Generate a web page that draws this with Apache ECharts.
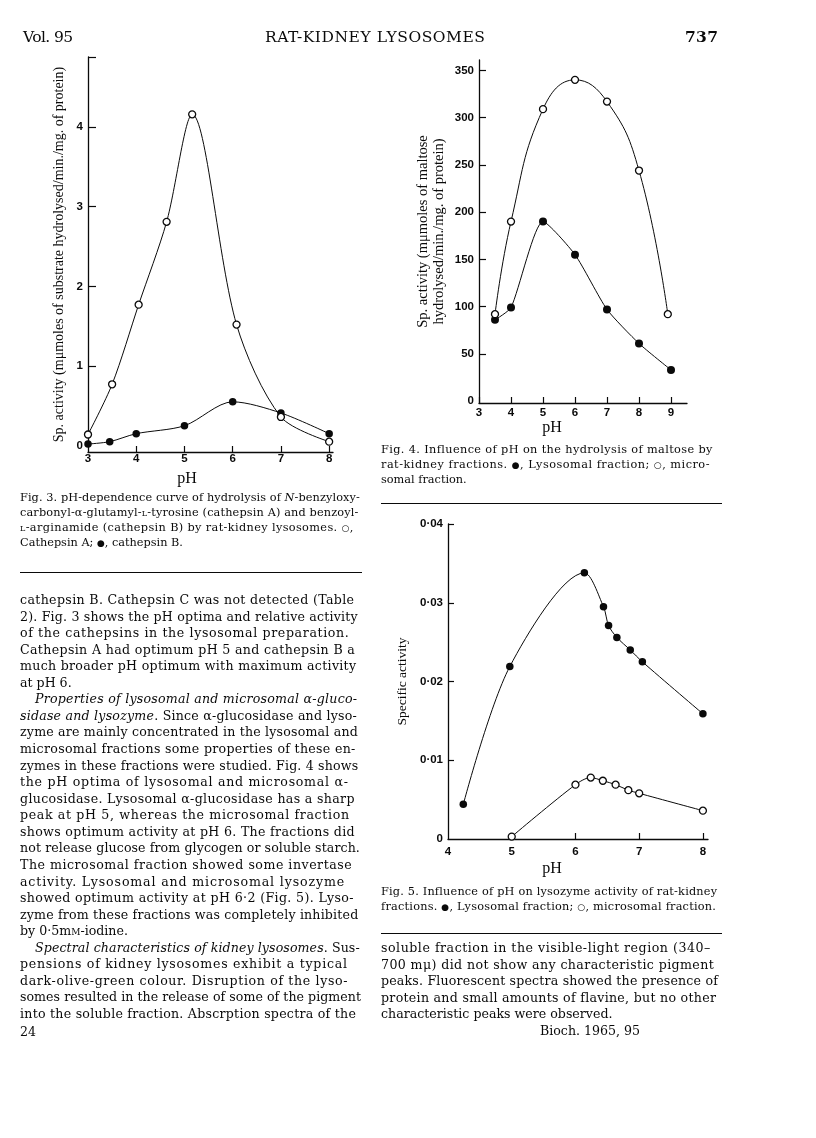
<!DOCTYPE html>
<html>
<head>
<meta charset="utf-8">
<script src="https://cdn.jsdelivr.net/npm/echarts@6/dist/echarts.min.js"></script>
<style>
  html, body { margin: 0; padding: 0; background: #fff; }
  #page { position: relative; width: 816px; height: 1138px; overflow: hidden; background: #fff; }
  #chart { position: absolute; left: 0; top: 0; width: 816px; height: 1138px; }
  .t { position: absolute; white-space: nowrap; font-family: 'DejaVu Serif', 'Liberation Serif', serif; color: #0a0a0a; z-index: 2; }
  .body { font-size: 12.6px; line-height: 16px; }
  .cap { font-size: 11.3px; line-height: 15px; }
  .hdr { font-size: 15.5px; line-height: 18px; }
  .j { text-align: justify; text-align-last: justify; }
  .sc { font-variant: small-caps; }
  .sym { font-family: 'DejaVu Sans', sans-serif; font-size: 9px; }
  .rule { position: absolute; height: 0; border-top: 1.5px solid #0a0a0a; z-index: 2; }
</style>
</head>
<body>
<div id="page">
  <div id="chart"></div>
</div>
<script>
// ---------- Data ----------
// Fig. 3 — cathepsin A (open circles) and cathepsin B (filled circles)
const fig3PhA   = [3, 3.5, 4.05, 4.63, 5.16, 6.08, 7, 8];
const fig3CathA = [0.14, 0.77, 1.77, 2.81, 4.16, 1.52, 0.36, 0.05];
const fig3PhB   = [3, 3.45, 4, 5, 6, 7, 8];
const fig3CathB = [0.02, 0.05, 0.15, 0.25, 0.55, 0.41, 0.15];
const fig3XLabels = [3, 4, 5, 6, 7, 8];
const fig3YLabels = [0, 1, 2, 3, 4];
const fig3YTicks  = [1, 2, 3, 4, 4.88];

// Fig. 4 — maltose hydrolysis: microsomal (open) and lysosomal (filled)
const fig4PhMicro = [3.5, 4, 5, 6, 7, 8, 8.9];
const fig4Micro   = [92, 190, 309, 340, 317, 244, 92];
const fig4PhLyso  = [3.5, 4, 5, 6, 7, 8, 9];
const fig4Lyso    = [86, 99, 190, 155, 97, 61, 33];
const fig4XLabels = [3, 4, 5, 6, 7, 8, 9];
const fig4YLabels = [0, 50, 100, 150, 200, 250, 300, 350];
const fig4YTicks  = [50, 100, 150, 200, 250, 300, 350];

// Fig. 5 — lysozyme: lysosomal (filled) and microsomal (open)
const fig5PhLyso  = [4.24, 4.97, 6.14, 6.44, 6.52, 6.65, 6.86, 7.05, 8];
const fig5Lyso    = [0.0044, 0.0219, 0.0338, 0.0295, 0.0271, 0.0256, 0.0240, 0.0225, 0.0159];
const fig5PhMicro = [5, 6, 6.24, 6.43, 6.63, 6.83, 7, 8];
const fig5Micro   = [0.0003, 0.0069, 0.0078, 0.0074, 0.0069, 0.0062, 0.0058, 0.0036];
const fig5XLabels = [4, 5, 6, 7, 8];
const fig5XTicks  = [5, 6, 7, 8];
const fig5YLabels = [0, 0.01, 0.02, 0.03, 0.04];
const fig5YTicks  = [0.01, 0.02, 0.03, 0.04];

// ---------- Page text ----------
const page = document.getElementById('page');
const fitList = [];
function addText(cls, left, top, html, fitWidth, mode) {
  const d = document.createElement('div');
  d.className = 't ' + cls;
  d.style.left = left + 'px';
  d.style.top = top + 'px';
  d.innerHTML = html;
  page.appendChild(d);
  if (fitWidth) fitList.push([d, fitWidth, mode]);
  return d;
}
function addRule(left, top, width) {
  const d = document.createElement('div');
  d.className = 'rule';
  d.style.left = left + 'px'; d.style.top = top + 'px'; d.style.width = width + 'px';
  page.appendChild(d);
}
// mode 'j': justified line (letter-spacing takes part of slack, word gaps the rest)
// mode 'fill': exact fill by letter-spacing (header), mode 'natural': shrink only if too wide
function fitAll() {
  fitList.forEach(([d, target, mode]) => {
    d.style.letterSpacing = '0px';
    d.style.width = '';
    const w = d.getBoundingClientRect().width;
    const n = Math.max(1, d.textContent.length);
    let ls = 0;
    if (mode === 'j') {
      const slack = target - w;
      ls = slack > 0 ? Math.min(0.9, slack * 0.7 / n) : (slack - 1) / n;
    } else if (mode === 'fill') {
      ls = (target - w) / Math.max(1, n - 1);
    } else {
      ls = w > target ? (target - w - 1) / n : 0;
    }
    d.style.letterSpacing = ls.toFixed(3) + 'px';
    if (mode === 'j') d.style.width = target + 'px';
  });
}

const OPEN = '<span class="sym">○</span>';
const FILL = '<span class="sym">●</span>';

// header
addText('hdr', 23, 28, 'Vol. 95', 50, 'fill');
addText('hdr', 265, 28, 'RAT-KIDNEY LYSOSOMES', 220, 'fill');
addText('hdr', 685, 28, '<b>737</b>', 33, 'fill');

const LX = 20, LW = 342, RX = 381, RW = 341;
// Fig. 3 caption
const fig3Cap = [
  ['Fig. 3. pH-dependence curve of hydrolysis of <i>N</i>-benzyloxy-', 'j'],
  ['carbonyl-α-glutamyl-<span class="sc">l</span>-tyrosine (cathepsin A) and benzoyl-', 'j'],
  ['<span class="sc">l</span>-arginamide (cathepsin B) by rat-kidney lysosomes. ' + OPEN + ',', 'j'],
  ['Cathepsin A; ' + FILL + ', cathepsin B.', 'natural']
];
fig3Cap.forEach((l, i) => addText('cap', LX, 498 + i * 15 - 8.5, l[0], LW, l[1]));
addRule(LX, 572, LW);

// left column body text
const leftBody = [
  ['cathepsin B.  Cathepsin C was not detected (Table', 'j', 0],
  ['2).  Fig. 3 shows the pH optima and relative activity', 'j', 0],
  ['of the cathepsins in the lysosomal preparation.', 'j', 0],
  ['Cathepsin A had optimum pH 5 and cathepsin B a', 'j', 0],
  ['much broader pH optimum with maximum activity', 'j', 0],
  ['at pH 6.', 'natural', 0],
  ['<i>Properties of lysosomal and microsomal α-gluco-</i>', 'j', 15],
  ['<i>sidase and lysozyme</i>.  Since α-glucosidase and lyso-', 'j', 0],
  ['zyme are mainly concentrated in the lysosomal and', 'j', 0],
  ['microsomal fractions some properties of these en-', 'j', 0],
  ['zymes in these fractions were studied.  Fig. 4 shows', 'j', 0],
  ['the pH optima of lysosomal and microsomal α-', 'j', 0],
  ['glucosidase.  Lysosomal α-glucosidase has a sharp', 'j', 0],
  ['peak at pH 5, whereas the microsomal fraction', 'j', 0],
  ['shows optimum activity at pH 6.  The fractions did', 'j', 0],
  ['not release glucose from glycogen or soluble starch.', 'j', 0],
  ['The microsomal fraction showed some invertase', 'j', 0],
  ['activity.  Lysosomal and microsomal lysozyme', 'j', 0],
  ['showed optimum activity at pH 6·2 (Fig. 5).  Lyso-', 'j', 0],
  ['zyme from these fractions was completely inhibited', 'j', 0],
  ['by 0·5m<span class="sc">m</span>-iodine.', 'natural', 0],
  ['<i>Spectral characteristics of kidney lysosomes</i>.  Sus-', 'j', 15],
  ['pensions of kidney lysosomes exhibit a typical', 'j', 0],
  ['dark-olive-green colour.  Disruption of the lyso-', 'j', 0],
  ['somes resulted in the release of some of the pigment', 'j', 0],
  ['into the soluble fraction.  Abscrption spectra of the', 'j', 0]
];
leftBody.forEach((l, i) => addText('body', LX + l[2], 601 + i * 16.56 - 9, l[0], LW - l[2], l[1]));
addText('body', LX, 1033 - 9, '24');

// right column
const fig4Cap = [
  ['Fig. 4.  Influence of pH on the hydrolysis of maltose by', 'j'],
  ['rat-kidney fractions.  ' + FILL + ', Lysosomal fraction; ' + OPEN + ', micro-', 'j'],
  ['somal fraction.', 'natural']
];
fig4Cap.forEach((l, i) => addText('cap', RX, 450 + i * 15 - 8.5, l[0], RW, l[1]));
addRule(RX, 503, RW);

const fig5Cap = [
  ['Fig. 5.  Influence of pH on lysozyme activity of rat-kidney', 'j'],
  ['fractions.  ' + FILL + ', Lysosomal fraction; ' + OPEN + ', microsomal fraction.', 'j']
];
fig5Cap.forEach((l, i) => addText('cap', RX, 892 + i * 15 - 8.5, l[0], RW, l[1]));
addRule(RX, 933, RW);

const rightBody = [
  ['soluble fraction in the visible-light region (340–', 'j'],
  ['700 mμ) did not show any characteristic pigment', 'j'],
  ['peaks.  Fluorescent spectra showed the presence of', 'j'],
  ['protein and small amounts of flavine, but no other', 'j'],
  ['characteristic peaks were observed.', 'natural']
];
rightBody.forEach((l, i) => addText('body', RX, 949 + i * 16.56 - 9, l[0], RW, l[1]));
addText('body', 540, 1032 - 9, 'Bioch. 1965, 95');

fitAll();
if (document.fonts && document.fonts.ready) document.fonts.ready.then(fitAll);

// ---------- Charts ----------
const INK = '#0a0a0a';
const LABEL_FONT = "'Liberation Sans Narrow', 'Liberation Sans', 'DejaVu Sans', sans-serif";
const SERIF = "'Liberation Serif', 'Times New Roman', serif";

function zip(xs, ys) { return xs.map((x, i) => [x, ys[i]]); }

function xAxisCfg(gi, min, max, labels, ticks, nameGap, namePadR, labelMargin) {
  return {
    gridIndex: gi, type: 'value', min: min, max: max,
    name: 'pH', nameLocation: 'middle', nameGap: nameGap,
    nameTextStyle: { fontFamily: SERIF, fontSize: 16, color: INK, padding: [0, namePadR, 0, 0] },
    axisLine: { show: true, onZero: false, lineStyle: { color: INK, width: 1.3 } },
    axisTick: { show: true, inside: true, length: 6, customValues: ticks, lineStyle: { color: INK, width: 1.2 } },
    axisLabel: { customValues: labels, margin: labelMargin, fontFamily: LABEL_FONT, fontWeight: 'bold', fontSize: 11.5, color: INK },
    splitLine: { show: false }
  };
}
function yAxisCfg(gi, min, max, labels, ticks, name, nameGap, nameSize, fmt, tickLen) {
  return {
    gridIndex: gi, type: 'value', min: min, max: max,
    name: name, nameLocation: 'middle', nameGap: nameGap,
    nameTextStyle: { fontFamily: SERIF, fontSize: nameSize, color: INK, lineHeight: nameSize + 1.5 },
    axisLine: { show: true, onZero: false, lineStyle: { color: INK, width: 1.3 } },
    axisTick: { show: true, inside: true, length: tickLen, customValues: ticks, lineStyle: { color: INK, width: 1.2 } },
    axisLabel: { customValues: labels, margin: 5, fontFamily: LABEL_FONT, fontWeight: 'bold', fontSize: 11.5, color: INK, formatter: fmt },
    splitLine: { show: false }
  };
}
function lineSeries(gi, data, open, size, smooth) {
  return {
    type: 'line', xAxisIndex: gi, yAxisIndex: gi, data: data,
    smooth: smooth, symbol: 'circle', symbolSize: size, showSymbol: true,
    lineStyle: { color: INK, width: 1 },
    itemStyle: open ? { color: '#fff', borderColor: INK, borderWidth: 1.3 } : { color: INK, borderColor: INK, borderWidth: 0 },
    z: open ? 4 : 3, silent: true
  };
}

const chart = echarts.init(document.getElementById('chart'), null, { renderer: 'canvas' });
chart.setOption({
  animation: false,
  backgroundColor: 'transparent',
  grid: [
    { left: 88, top: 57, width: 245, height: 395 },
    { left: 479, top: 60, width: 208, height: 343 },
    { left: 448, top: 524, width: 260, height: 315 }
  ],
  xAxis: [
    xAxisCfg(0, 3, 8.08, fig3XLabels, fig3XLabels.slice(1), 19, 47, 1),
    xAxisCfg(1, 3, 9.5, fig4XLabels, fig4XLabels, 17, 62, 4),
    xAxisCfg(2, 4, 8.08, fig5XLabels, fig5XTicks, 22, 52, 7)
  ],
  yAxis: [
    yAxisCfg(0, -0.08, 4.88, fig3YLabels, fig3YTicks,
      'Sp. activity (mμmoles of substrate hydrolysed/min./mg. of protein)', 21, 14,
      v => String(v), 8),
    yAxisCfg(1, -2, 361, fig4YLabels, fig4YTicks,
      'Sp. activity (mμmoles of maltose\nhydrolysed/min./mg. of protein)', 32, 14.5,
      v => String(v), 7),
    yAxisCfg(2, 0, 0.04, fig5YLabels, fig5YTicks,
      'Specific activity', 38, 13.5,
      v => v === 0 ? '0' : '0·0' + Math.round(v * 100), 6)
  ],
  series: [
    lineSeries(0, zip(fig3PhA, fig3CathA), true, 7, 0.3),
    lineSeries(0, zip(fig3PhB, fig3CathB), false, 7.5, 0.3),
    lineSeries(1, zip(fig4PhMicro, fig4Micro), true, 7, 0.45),
    lineSeries(1, zip(fig4PhLyso, fig4Lyso), false, 8, 0.2),
    lineSeries(2, zip(fig5PhLyso, fig5Lyso), false, 7.5, 0.3),
    lineSeries(2, zip(fig5PhMicro, fig5Micro), true, 7, 0.3)
  ]
});
</script>
</body>
</html>
